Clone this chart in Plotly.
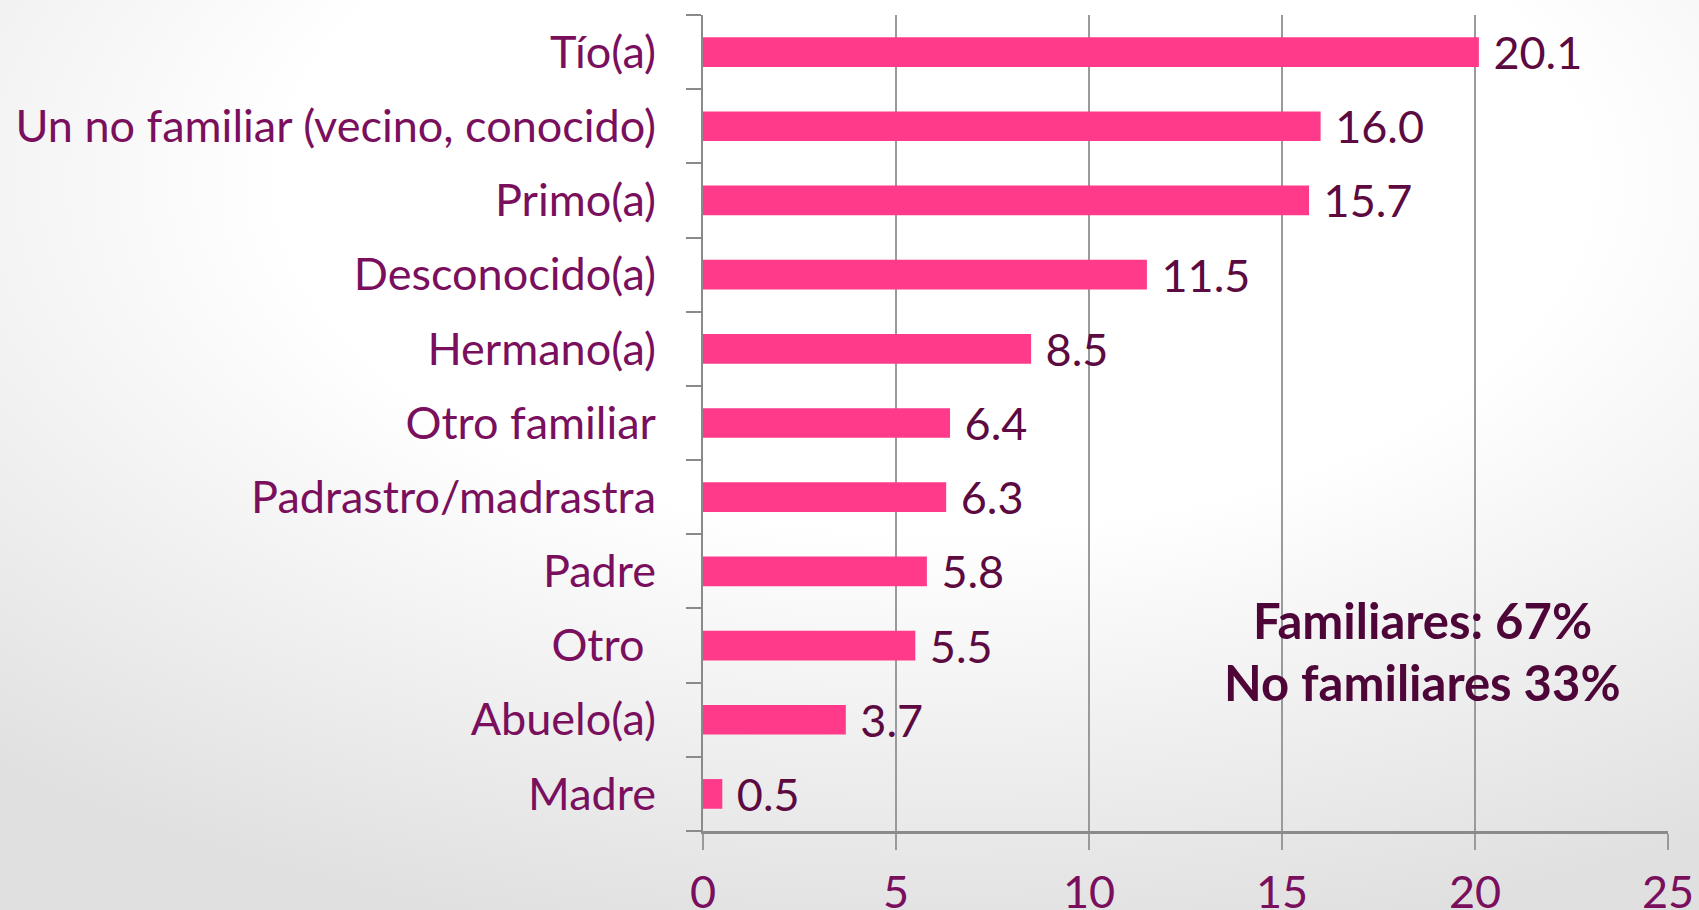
import base64
import plotly.graph_objects as go

categories = ["Tío(a)", "Un no familiar (vecino, conocido)", "Primo(a)", "Desconocido(a)",
              "Hermano(a)", "Otro familiar", "Padrastro/madrastra", "Padre", "Otro\u00a0",
              "Abuelo(a)", "Madre"]
values = [20.1, 16.0, 15.7, 11.5, 8.5, 6.4, 6.3, 5.8, 5.5, 3.7, 0.5]
x_ticks = [0, 5, 10, 15, 20, 25]
note_lines = ["Familiares: 67%", "No familiares 33%"]

FONT = "Lato"
W, H = 1699, 910
ML, MR, MT, MB = 703, 31, 15, 79
pw, ph = W - ML - MR, H - MT - MB

svg = (
    '<svg xmlns="http://www.w3.org/2000/svg" width="1699" height="910" preserveAspectRatio="none">'
    '<defs><radialGradient id="g" cx="0.55" cy="0.2" r="0.85">'
    '<stop offset="0.45" stop-color="#ffffff"/><stop offset="1" stop-color="#e0e0e0"/>'
    '</radialGradient></defs><rect width="1699" height="910" fill="url(#g)"/></svg>'
)
bg_src = "data:image/svg+xml;base64," + base64.b64encode(svg.encode()).decode()

fig = go.Figure()
fig.add_trace(go.Bar(
    y=categories[::-1], x=values[::-1], orientation="h",
    marker=dict(color="#FF3A8A", line=dict(width=0)),
    text=[f"\u00a0{v:.1f}" for v in values[::-1]], textposition="outside",
    constraintext="none",
    textfont=dict(family=FONT, size=45, color="#5C0A40"),
    cliponaxis=False, width=0.4, hoverinfo="skip",
))

fig.add_layout_image(dict(
    source=bg_src, xref="paper", yref="paper",
    x=-ML / pw, y=1 + MT / ph, sizex=W / pw, sizey=H / ph,
    xanchor="left", yanchor="top", sizing="stretch", layer="below",
))

for line, py in zip(note_lines, [620, 682]):
    fig.add_annotation(
        x=(1422.5 - ML) / pw, y=1 - (py - MT) / ph, xref="paper", yref="paper",
        text="<b>" + line + "</b>", showarrow=False,
        font=dict(family=FONT, size=49, color="#4E0538"), xanchor="center", yanchor="middle",
    )

fig.update_layout(
    width=W, height=H,
    margin=dict(l=ML, r=MR, t=MT, b=MB, autoexpand=False),
    paper_bgcolor="white", plot_bgcolor="rgba(0,0,0,0)",
    showlegend=False,
    xaxis=dict(range=[0, 25], tickvals=x_ticks, showgrid=True, gridcolor="#9a9a9a", gridwidth=1.5,
               showline=True, linecolor="#8a8a8a", linewidth=2.5, ticks="outside", ticklen=16,
               tickcolor="#9a9a9a", tickwidth=1.5, zeroline=False, automargin=False,
               ticklabeloverflow="allow", ticklabelstandoff=4,
               tickfont=dict(family=FONT, size=45, color="#7A0F5E")),
    yaxis=dict(showline=True, linecolor="#8a8a8a", linewidth=2, ticks="outside", ticklen=15,
               tickcolor="#8a8a8a", tickwidth=2, tickson="boundaries", showgrid=False,
               ticklabelstandoff=36, automargin=False,
               tickfont=dict(family=FONT, size=45, color="#7A0F5E")),
)

fig.write_html("out.html", post_script="document.body.style.margin='0';",
               config={"displayModeBar": False})
